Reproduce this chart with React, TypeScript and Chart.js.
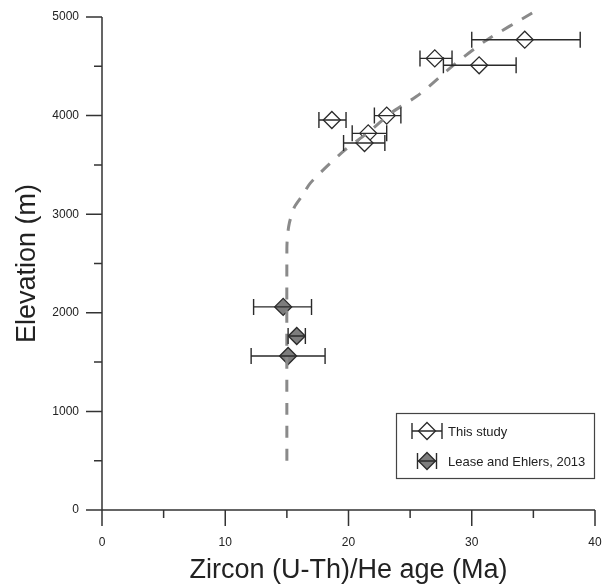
import React, { useEffect, useRef } from 'react';
import { Chart, registerables } from 'chart.js';

Chart.register(...registerables);

// ---- Data ----
const studyLabel = 'This study';
const studyAge = [34.3, 27.0, 30.6, 23.1, 18.65, 21.6, 21.3];
const studyElev = [4770, 4580, 4510, 4000, 3955, 3820, 3722];
const studyAgeMin = [30.0, 25.8, 27.7, 22.1, 17.6, 20.3, 19.6];
const studyAgeMax = [38.8, 28.4, 33.6, 24.25, 19.8, 23.1, 22.95];

const leaseLabel = 'Lease and Ehlers, 2013';
const leaseAge = [14.7, 15.8, 15.1];
const leaseElev = [2060, 1765, 1562];
const leaseAgeMin = [12.3, 15.1, 12.1];
const leaseAgeMax = [17.0, 16.5, 18.1];

const curveAge = [15.0, 15.0, 15.05, 15.2, 15.6, 16.2, 16.9, 18.2, 19.7, 21.6, 23.5, 25.8, 28.7, 31.2, 34.9];
const curveElev = [500, 2650, 2780, 2910, 3070, 3180, 3315, 3480, 3650, 3830, 4030, 4220, 4530, 4765, 5040];

const xTicksMajor = [0, 10, 20, 30, 40];
const xTicksMinor = [5, 15, 25, 35];
const yTicksMajor = [0, 1000, 2000, 3000, 4000, 5000];
const yTicksMinor = [500, 1500, 2500, 3500, 4500];

const xTitle = 'Zircon (U-Th)/He age (Ma)';
const yTitle = 'Elevation (m)';

const FONT = '"Liberation Sans", Arial, Helvetica, sans-serif';
const AXIS_COLOR = '#333333';
const BAR_COLOR = '#2a2a2a';
const FILL_GRAY = '#7d7d7d';

const errorSets = [
  { age: studyAge, elev: studyElev, min: studyAgeMin, max: studyAgeMax },
  { age: leaseAge, elev: leaseElev, min: leaseAgeMin, max: leaseAgeMax },
];

const axesPlugin = {
  id: 'customAxes',
  beforeDatasetsDraw(chart: any) {
    const { ctx } = chart;
    const xs = chart.scales.x;
    const ys = chart.scales.y;
    const x0 = xs.getPixelForValue(0);
    const y0 = ys.getPixelForValue(0);
    const major = 16;
    const minor = 8;
    ctx.save();
    ctx.strokeStyle = AXIS_COLOR;
    ctx.lineWidth = 1.5;
    ctx.beginPath();
    ctx.moveTo(x0, ys.getPixelForValue(yTicksMajor[yTicksMajor.length - 1]));
    ctx.lineTo(x0, y0 + major);
    ctx.moveTo(x0 - major, y0);
    ctx.lineTo(xs.getPixelForValue(xTicksMajor[xTicksMajor.length - 1]), y0);
    yTicksMajor.forEach((v) => {
      const y = ys.getPixelForValue(v);
      ctx.moveTo(x0 - major, y);
      ctx.lineTo(x0, y);
    });
    yTicksMinor.forEach((v) => {
      const y = ys.getPixelForValue(v);
      ctx.moveTo(x0 - minor, y);
      ctx.lineTo(x0, y);
    });
    xTicksMajor.forEach((v) => {
      const x = xs.getPixelForValue(v);
      ctx.moveTo(x, y0);
      ctx.lineTo(x, y0 + major);
    });
    xTicksMinor.forEach((v) => {
      const x = xs.getPixelForValue(v);
      ctx.moveTo(x, y0);
      ctx.lineTo(x, y0 + minor);
    });
    ctx.stroke();
    ctx.restore();
  },
};

const errorBarPlugin = {
  id: 'errorBars',
  afterDatasetsDraw(chart: any) {
    const { ctx } = chart;
    const xs = chart.scales.x;
    const ys = chart.scales.y;
    ctx.save();
    ctx.strokeStyle = BAR_COLOR;
    ctx.lineWidth = 1.4;
    errorSets.forEach((s) => {
      s.elev.forEach((e, i) => {
        const y = ys.getPixelForValue(e);
        const x1 = xs.getPixelForValue(s.min[i]);
        const x2 = xs.getPixelForValue(s.max[i]);
        ctx.beginPath();
        ctx.moveTo(x1, y);
        ctx.lineTo(x2, y);
        ctx.moveTo(x1, y - 8);
        ctx.lineTo(x1, y + 8);
        ctx.moveTo(x2, y - 8);
        ctx.lineTo(x2, y + 8);
        ctx.stroke();
      });
    });
    ctx.restore();
  },
};

function drawDiamond(ctx: CanvasRenderingContext2D, cx: number, cy: number, r: number, fill: string) {
  ctx.beginPath();
  ctx.moveTo(cx, cy - r);
  ctx.lineTo(cx + r, cy);
  ctx.lineTo(cx, cy + r);
  ctx.lineTo(cx - r, cy);
  ctx.closePath();
  ctx.fillStyle = fill;
  ctx.fill();
  ctx.strokeStyle = BAR_COLOR;
  ctx.lineWidth = 1.3;
  ctx.stroke();
}

const legendPlugin = {
  id: 'boxLegend',
  afterDraw(chart: any) {
    const { ctx, chartArea } = chart;
    const right = chartArea.right - 1;
    const left = right - 198;
    const top = chartArea.bottom - 97;
    const bottom = chartArea.bottom - 32;
    ctx.save();
    ctx.fillStyle = '#ffffff';
    ctx.fillRect(left, top, right - left, bottom - top);
    ctx.strokeStyle = '#444';
    ctx.lineWidth = 1.2;
    ctx.strokeRect(left + 0.5, top + 0.5, right - left, bottom - top);

    const items = [
      { label: studyLabel, fill: '#ffffff', half: 15, dy: 18 },
      { label: leaseLabel, fill: FILL_GRAY, half: 9.5, dy: 48 },
    ];
    const cx = left + 31;
    items.forEach((it) => {
      const cy = top + it.dy;
      drawDiamond(ctx, cx, cy, 8.5, it.fill);
      ctx.strokeStyle = BAR_COLOR;
      ctx.lineWidth = 1.4;
      ctx.beginPath();
      ctx.moveTo(cx - it.half, cy);
      ctx.lineTo(cx + it.half, cy);
      ctx.moveTo(cx - it.half, cy - 8);
      ctx.lineTo(cx - it.half, cy + 8);
      ctx.moveTo(cx + it.half, cy - 8);
      ctx.lineTo(cx + it.half, cy + 8);
      ctx.stroke();
      ctx.fillStyle = '#222';
      ctx.font = '13px ' + FONT;
      ctx.textAlign = 'left';
      ctx.textBaseline = 'middle';
      ctx.fillText(it.label, left + 52, cy + 1);
    });
    ctx.restore();
  },
};

const zeroPad = (s: any) => {
  s.paddingTop = 0;
  s.paddingBottom = 0;
  s.paddingLeft = 0;
  s.paddingRight = 0;
};

export default function App() {
  const canvasRef = useRef<HTMLCanvasElement | null>(null);

  useEffect(() => {
    if (!canvasRef.current) return;
    Chart.defaults.font.family = FONT;
    const chart = new Chart(canvasRef.current, {
      type: 'scatter',
      data: {
        datasets: [
          {
            type: 'line',
            label: 'fit',
            data: curveAge.map((x, i) => ({ x, y: curveElev[i] })),
            borderColor: '#8a8a8a',
            borderWidth: 3,
            borderDash: [12, 11],
            pointRadius: 0,
            fill: false,
            tension: 0.25,
            clip: false as any,
          },
          {
            label: studyLabel,
            data: studyAge.map((x, i) => ({ x, y: studyElev[i] })),
            pointStyle: 'rectRot',
            pointRadius: 8.5,
            backgroundColor: '#ffffff',
            borderColor: BAR_COLOR,
            borderWidth: 1.3,
          },
          {
            label: leaseLabel,
            data: leaseAge.map((x, i) => ({ x, y: leaseElev[i] })),
            pointStyle: 'rectRot',
            pointRadius: 8.5,
            backgroundColor: FILL_GRAY,
            borderColor: BAR_COLOR,
            borderWidth: 1.3,
          },
        ],
      },
      options: {
        animation: false,
        responsive: true,
        maintainAspectRatio: false,
        layout: { padding: { top: 17, right: 13, left: 0, bottom: 0 } },
        plugins: {
          legend: { display: false },
          tooltip: { enabled: false },
        },
        scales: {
          x: {
            type: 'linear',
            min: 0,
            max: 40,
            grid: { display: false, drawTicks: false },
            border: { display: false },
            ticks: {
              stepSize: 10,
              padding: 25,
              color: '#222',
              font: { size: 12, family: FONT },
              callback: (v: any) => String(v),
            },
            title: {
              display: true,
              text: xTitle,
              color: '#222',
              font: { size: 27, family: FONT, lineHeight: 1 },
              padding: { top: 0, bottom: 1 },
            },
            afterFit: (s: any) => {
              s.height = 75;
              zeroPad(s);
            },
          },
          y: {
            type: 'linear',
            min: 0,
            max: 5000,
            grid: { display: false, drawTicks: false },
            border: { display: false },
            ticks: {
              stepSize: 1000,
              padding: 23,
              color: '#222',
              font: { size: 12, family: FONT },
              callback: (v: any) => String(v),
            },
            title: {
              display: true,
              text: yTitle,
              color: '#222',
              font: { size: 27, family: FONT, lineHeight: 1 },
              padding: { top: 14, bottom: 0 },
            },
            afterFit: (s: any) => {
              s.width = 102;
              zeroPad(s);
            },
          },
        },
      },
      plugins: [axesPlugin, errorBarPlugin, legendPlugin],
    } as any);
    return () => chart.destroy();
  }, []);

  return (
    <div style={{ position: 'fixed', left: 0, top: 0, width: 608, height: 585, background: '#fff' }}>
      <canvas ref={canvasRef} />
    </div>
  );
}
